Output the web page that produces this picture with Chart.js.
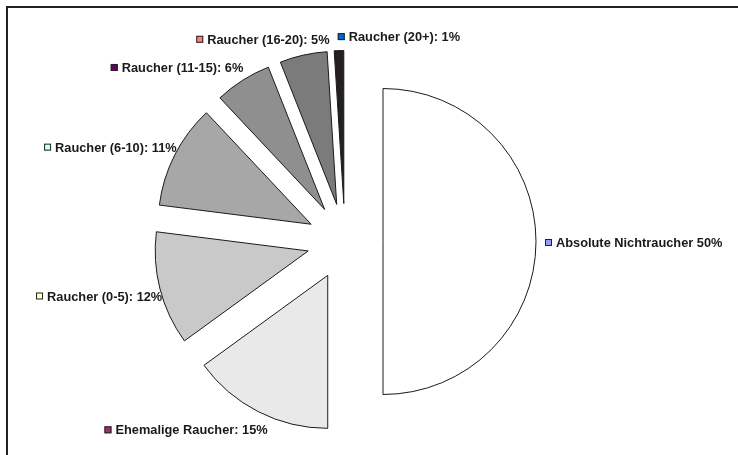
<!DOCTYPE html>
<html>
<head>
<meta charset="utf-8">
<title>Raucherstatus</title>
<script src="https://cdn.jsdelivr.net/npm/chart.js@4/dist/chart.umd.min.js"></script>
<style>
  html, body { margin: 0; padding: 0; background: #fff; }
  #chart { display: block; }
</style>
</head>
<body>
<canvas id="chart" width="738" height="455"></canvas>
<script>
// categories and shares (percent)
var categories = [
  'Absolute Nichtraucher',
  'Ehemalige Raucher',
  'Raucher (0-5)',
  'Raucher (6-10)',
  'Raucher (11-15)',
  'Raucher (16-20)',
  'Raucher (20+)'
];
var shares = [50, 15, 12, 11, 6, 5, 1];

// label text as printed next to each slice
var labelTexts = [
  'Absolute Nichtraucher 50%',
  'Ehemalige Raucher: 15%',
  'Raucher (0-5): 12%',
  'Raucher (6-10): 11%',
  'Raucher (11-15): 6%',
  'Raucher (16-20): 5%',
  'Raucher (20+): 1%'
];

// slice fills (greys) and the little key squares in front of each label
var sliceColors = ['#ffffff', '#e9e9e9', '#c9c9c9', '#a7a7a7', '#8f8f8f', '#7b7b7b', '#231f20'];
var keyColors = ['#9999ff', '#993366', '#ffffcc', '#ccffff', '#660066', '#ff8080', '#0066cc'];

// label placement relative to the slice bisector point
var labelLayout = [
  { dx: 1, dy: 1, align: 'left' },
  { dx: 13, dy: 11, align: 'right' },
  { dx: 10, dy: 5, align: 'right' },
  { dx: 9, dy: -4, align: 'right' },
  { dx: 5, dy: -6, align: 'right' },
  { dx: 28, dy: -8, align: 'right' },
  { dx: -1, dy: -6, align: 'left' }
];

var RADIUS = 153;   // pie radius, px
var EXPLODE = 38;   // distance every slice is pulled out, px
var FONT = 'bold 12.8px "Liberation Sans", Arial, sans-serif';

// pull each slice out along its bisector. The built-in `offset` option also
// grows and trims the arcs, so move the element centres instead
var explodePlugin = {
  id: 'explode',
  afterDatasetUpdate: function(chart, args) {
    var arcs = chart.getDatasetMeta(args.index).data;
    arcs.forEach(function(arc) {
      var mid = (arc.startAngle + arc.endAngle) / 2;
      arc.x += Math.cos(mid) * EXPLODE;
      arc.y += Math.sin(mid) * EXPLODE;
    });
  }
};

// frame around the plot, only top and left edges fall inside the canvas
var framePlugin = {
  id: 'frame',
  beforeDraw: function(chart) {
    var ctx = chart.ctx;
    ctx.save();
    ctx.strokeStyle = '#222';
    ctx.lineWidth = 2;
    ctx.beginPath();
    ctx.moveTo(7, chart.height + 2);
    ctx.lineTo(7, 7);
    ctx.lineTo(chart.width + 2, 7);
    ctx.stroke();
    ctx.restore();
  }
};

// slice labels with a key square, anchored on each arc's bisector
var labelPlugin = {
  id: 'sliceLabels',
  afterDatasetsDraw: function(chart) {
    var ctx = chart.ctx;
    var arcs = chart.getDatasetMeta(0).data;
    ctx.save();
    ctx.font = FONT;
    ctx.textBaseline = 'middle';
    arcs.forEach(function(arc, i) {
      var mid = (arc.startAngle + arc.endAngle) / 2;
      var dist = arc.outerRadius + 8;
      var ax = arc.x + Math.cos(mid) * dist + labelLayout[i].dx;
      var ay = arc.y + Math.sin(mid) * dist + labelLayout[i].dy;
      var text = labelTexts[i];
      var tw = ctx.measureText(text).width;
      var box = 7, gap = 4;
      var left = labelLayout[i].align === 'left' ? ax : ax - tw - gap - box;

      ctx.fillStyle = keyColors[i];
      ctx.fillRect(left, ay - box / 2, box, box);
      ctx.strokeStyle = '#222';
      ctx.lineWidth = 1;
      ctx.strokeRect(left + 0.5, ay - box / 2 + 0.5, box - 1, box - 1);

      ctx.fillStyle = '#1a1a1a';
      ctx.textAlign = 'left';
      ctx.fillText(text, left + box + gap, ay + 1);
    });
    ctx.restore();
  }
};

new Chart(document.getElementById('chart'), {
  type: 'pie',
  data: {
    labels: categories,
    datasets: [{
      data: shares,
      backgroundColor: sliceColors,
      borderColor: '#1a1a1a',
      borderWidth: 1,
      borderJoinStyle: 'miter',
      offset: 0,
      hoverOffset: 0
    }]
  },
  options: {
    responsive: false,
    animation: false,
    devicePixelRatio: 1,
    events: [],
    radius: RADIUS,
    layout: {
      padding: { left: 0, right: 48, top: 28, bottom: 0 }
    },
    plugins: {
      legend: { display: false },
      tooltip: { enabled: false }
    }
  },
  plugins: [explodePlugin, framePlugin, labelPlugin]
});
</script>
</body>
</html>
